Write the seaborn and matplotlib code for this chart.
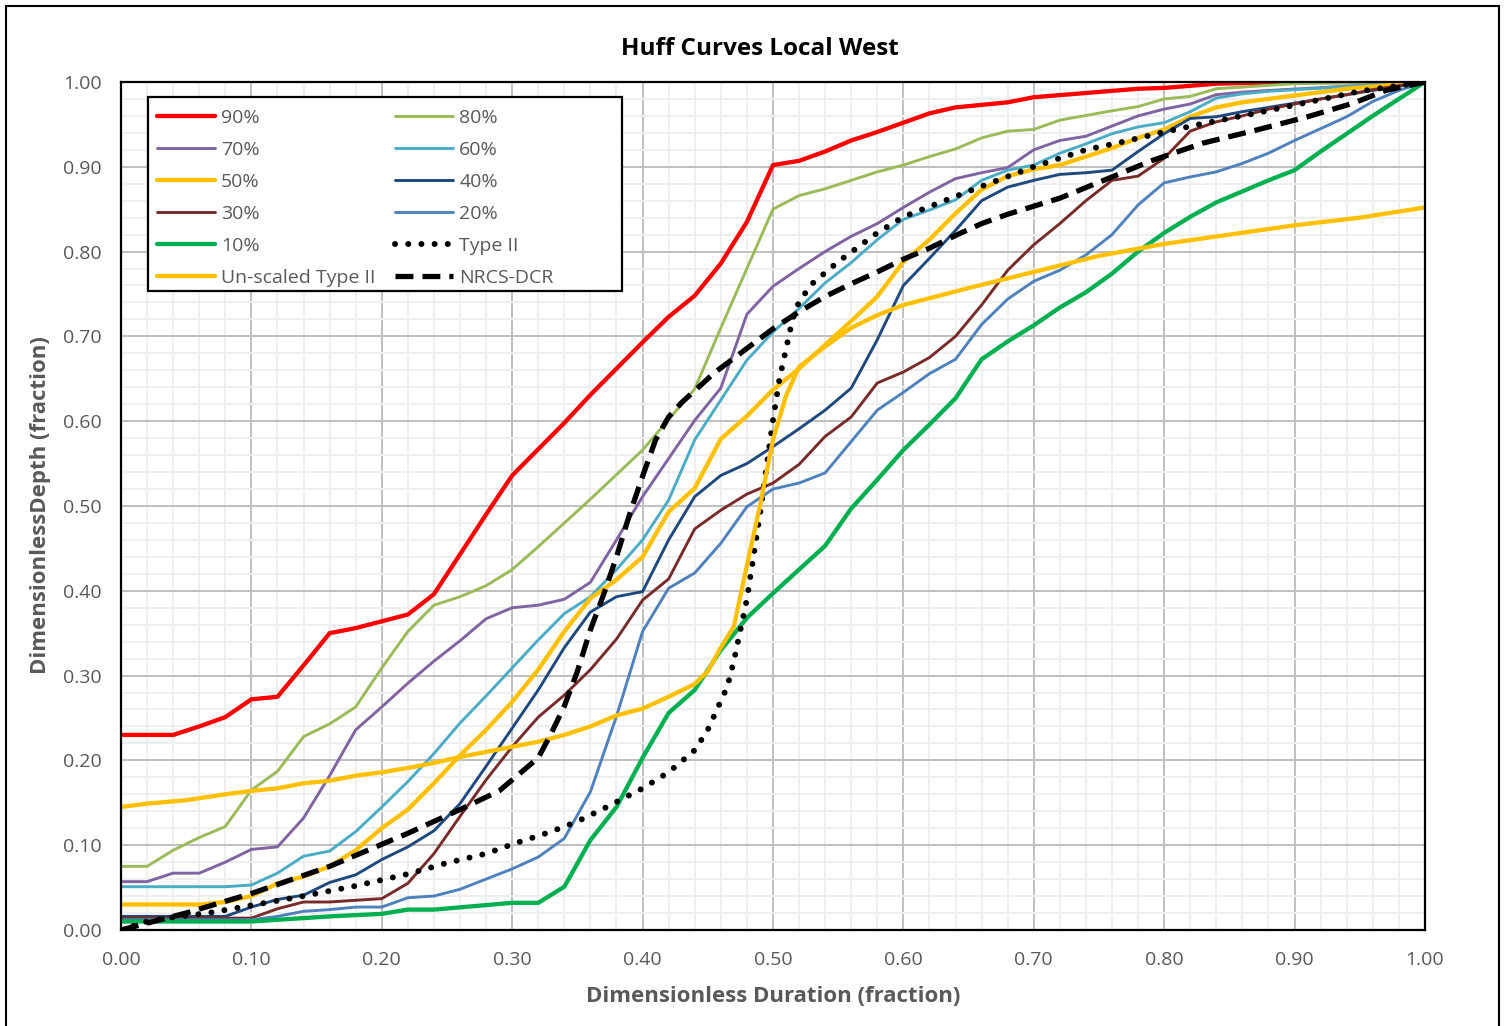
import numpy as np
import matplotlib
matplotlib.use("Agg")
import matplotlib.pyplot as plt
from matplotlib.patches import Rectangle
from matplotlib.ticker import MultipleLocator, FormatStrFormatter
import seaborn as sns


# DATA

P90_X = [0, 0.04, 0.06, 0.08, 0.10, 0.12, 0.14, 0.16, 0.18, 0.20, 0.22, 0.24, 0.26, 0.28, 0.30,
         0.32, 0.34, 0.36, 0.38, 0.40, 0.42, 0.44, 0.46, 0.48, 0.50, 0.52, 0.54, 0.56, 0.58, 0.60,
         0.62, 0.64, 0.66, 0.68, 0.70, 0.74, 0.78, 0.80, 0.84, 0.90, 1.00]
P90_Y = [0.230, 0.230, 0.240, 0.251, 0.272, 0.275, 0.312, 0.350, 0.356, 0.364, 0.372, 0.396, 0.443,
         0.490, 0.536, 0.567, 0.598, 0.631, 0.662, 0.693, 0.723, 0.748, 0.786, 0.835, 0.902, 0.907,
         0.918, 0.931, 0.941, 0.952, 0.963, 0.970, 0.973, 0.976, 0.982, 0.987, 0.992, 0.993, 0.998,
         1.0, 1.0]

P80_X = [0, 0.02, 0.04, 0.06, 0.08, 0.10, 0.12, 0.14, 0.16, 0.18, 0.20, 0.22, 0.24, 0.26, 0.28,
         0.30, 0.32, 0.36, 0.40, 0.44, 0.46, 0.48, 0.50, 0.52, 0.54, 0.56, 0.58, 0.60, 0.62, 0.64,
         0.66, 0.68, 0.70, 0.72, 0.76, 0.78, 0.80, 0.82, 0.84, 0.90, 1.0]
P80_Y = [0.075, 0.075, 0.094, 0.109, 0.122, 0.165, 0.187, 0.228, 0.243, 0.263, 0.309, 0.352, 0.383,
         0.393, 0.406, 0.425, 0.452, 0.508, 0.566, 0.638, 0.710, 0.780, 0.850, 0.866, 0.874, 0.884,
         0.894, 0.902, 0.912, 0.921, 0.934, 0.942, 0.944, 0.955, 0.966, 0.971, 0.980, 0.983, 0.992,
         0.998, 1.0]

P70_X = [0, 0.02, 0.04, 0.06, 0.08, 0.10, 0.12, 0.14, 0.16, 0.18, 0.20, 0.22, 0.24, 0.26, 0.28,
         0.30, 0.32, 0.34, 0.36, 0.38, 0.40, 0.42, 0.44, 0.46, 0.48, 0.50, 0.52, 0.54, 0.56, 0.58,
         0.60, 0.62, 0.64, 0.66, 0.68, 0.70, 0.72, 0.74, 0.76, 0.78, 0.80, 0.82, 0.84, 0.86, 0.88,
         1.0]
P70_Y = [0.057, 0.057, 0.067, 0.067, 0.080, 0.095, 0.098, 0.132, 0.182, 0.236, 0.263, 0.291, 0.317,
         0.341, 0.367, 0.380, 0.383, 0.390, 0.410, 0.460, 0.511, 0.556, 0.601, 0.639, 0.726, 0.759,
         0.780, 0.800, 0.818, 0.833, 0.852, 0.870, 0.886, 0.893, 0.899, 0.920, 0.931, 0.936, 0.948,
         0.960, 0.968, 0.974, 0.985, 0.988, 0.990, 1.0]

P60_X = [0, 0.08, 0.10, 0.12, 0.14, 0.16, 0.18, 0.20, 0.22, 0.24, 0.26, 0.28, 0.30, 0.32, 0.34,
         0.36, 0.38, 0.40, 0.42, 0.44, 0.46, 0.48, 0.50, 0.52, 0.54, 0.56, 0.58, 0.60, 0.62, 0.64,
         0.66, 0.68, 0.70, 0.72, 0.74, 0.76, 0.78, 0.80, 0.82, 0.84, 0.86, 0.88, 1.0]
P60_Y = [0.051, 0.051, 0.053, 0.067, 0.087, 0.093, 0.116, 0.145, 0.175, 0.208, 0.244, 0.276, 0.309,
         0.342, 0.373, 0.393, 0.425, 0.460, 0.507, 0.578, 0.625, 0.672, 0.705, 0.733, 0.763, 0.787,
         0.814, 0.838, 0.849, 0.861, 0.884, 0.896, 0.902, 0.916, 0.927, 0.939, 0.947, 0.952, 0.965,
         0.981, 0.986, 0.989, 1.0]

P50_X = [0, 0.06, 0.08, 0.10, 0.12, 0.14, 0.16, 0.18, 0.20, 0.22, 0.24, 0.26, 0.28, 0.30, 0.32,
         0.34, 0.36, 0.38, 0.40, 0.42, 0.44, 0.46, 0.48, 0.50, 0.52, 0.54, 0.56, 0.58, 0.60, 0.62,
         0.64, 0.66, 0.68, 0.70, 0.72, 0.74, 0.76, 0.78, 0.80, 0.82, 0.84, 0.86, 0.88, 0.90, 0.92,
         0.94, 1.0]
P50_Y = [0.030, 0.030, 0.033, 0.040, 0.055, 0.063, 0.075, 0.094, 0.120, 0.142, 0.173, 0.206, 0.236,
         0.269, 0.307, 0.352, 0.391, 0.413, 0.440, 0.493, 0.521, 0.579, 0.606, 0.637, 0.662, 0.690,
         0.718, 0.747, 0.788, 0.814, 0.845, 0.873, 0.889, 0.897, 0.902, 0.912, 0.922, 0.934, 0.944,
         0.959, 0.970, 0.976, 0.980, 0.984, 0.988, 0.992, 1.0]

P40_X = [0, 0.08, 0.10, 0.12, 0.14, 0.16, 0.18, 0.20, 0.22, 0.24, 0.26, 0.28, 0.30, 0.32, 0.34,
         0.36, 0.38, 0.40, 0.42, 0.44, 0.46, 0.48, 0.50, 0.52, 0.54, 0.56, 0.58, 0.60, 0.62, 0.64,
         0.66, 0.68, 0.70, 0.72, 0.74, 0.76, 0.78, 0.80, 0.82, 0.84, 0.86, 0.88, 0.90, 1.0]
P40_Y = [0.016, 0.016, 0.027, 0.036, 0.041, 0.056, 0.065, 0.083, 0.098, 0.117, 0.149, 0.193, 0.238,
         0.283, 0.333, 0.375, 0.393, 0.399, 0.460, 0.511, 0.536, 0.550, 0.570, 0.591, 0.613, 0.639,
         0.696, 0.760, 0.792, 0.825, 0.860, 0.876, 0.884, 0.891, 0.893, 0.896, 0.918, 0.939, 0.957,
         0.959, 0.965, 0.970, 0.975, 1.0]

P30_X = [0, 0.10, 0.12, 0.14, 0.16, 0.18, 0.20, 0.22, 0.24, 0.26, 0.28, 0.30, 0.32, 0.34, 0.36,
         0.38, 0.40, 0.42, 0.44, 0.46, 0.48, 0.50, 0.52, 0.54, 0.56, 0.58, 0.60, 0.62, 0.64, 0.66,
         0.68, 0.70, 0.72, 0.74, 0.76, 0.78, 0.80, 0.82, 0.84, 0.86, 0.88, 0.90, 0.92, 0.94, 0.96,
         1.0]
P30_Y = [0.014, 0.014, 0.025, 0.033, 0.033, 0.035, 0.037, 0.055, 0.090, 0.134, 0.177, 0.216, 0.251,
         0.277, 0.307, 0.343, 0.389, 0.414, 0.473, 0.495, 0.514, 0.527, 0.549, 0.582, 0.605, 0.645,
         0.658, 0.675, 0.700, 0.737, 0.778, 0.808, 0.833, 0.860, 0.884, 0.889, 0.910, 0.942, 0.953,
         0.960, 0.968, 0.974, 0.980, 0.985, 0.991, 1.0]

P20_X = [0, 0.10, 0.12, 0.14, 0.16, 0.18, 0.20, 0.22, 0.24, 0.26, 0.28, 0.30, 0.32, 0.34, 0.36,
         0.38, 0.40, 0.42, 0.44, 0.46, 0.48, 0.50, 0.52, 0.54, 0.56, 0.58, 0.60, 0.62, 0.64, 0.66,
         0.68, 0.70, 0.72, 0.74, 0.76, 0.78, 0.80, 0.82, 0.84, 0.86, 0.88, 0.90, 0.92, 0.94, 0.96,
         0.98, 1.0]
P20_Y = [0.012, 0.012, 0.016, 0.022, 0.024, 0.027, 0.027, 0.038, 0.040, 0.048, 0.060, 0.072, 0.086,
         0.108, 0.163, 0.252, 0.352, 0.403, 0.421, 0.456, 0.499, 0.520, 0.527, 0.539, 0.576, 0.613,
         0.634, 0.656, 0.673, 0.714, 0.744, 0.765, 0.778, 0.796, 0.820, 0.855, 0.881, 0.888, 0.894,
         0.904, 0.916, 0.931, 0.945, 0.959, 0.977, 0.990, 1.0]

P10_X = [0, 0.10, 0.16, 0.20, 0.22, 0.24, 0.30, 0.32, 0.34, 0.36, 0.38, 0.40, 0.42, 0.44, 0.46,
         0.48, 0.50, 0.52, 0.54, 0.56, 0.58, 0.60, 0.62, 0.64, 0.66, 0.68, 0.70, 0.72, 0.74, 0.76,
         0.78, 0.80, 0.82, 0.84, 0.86, 0.88, 0.90, 0.92, 0.94, 0.96, 0.98, 1.0]
P10_Y = [0.010, 0.010, 0.016, 0.019, 0.024, 0.024, 0.032, 0.032, 0.051, 0.106, 0.145, 0.203, 0.256,
         0.283, 0.330, 0.368, 0.397, 0.425, 0.453, 0.497, 0.531, 0.566, 0.596, 0.627, 0.673, 0.694,
         0.713, 0.734, 0.752, 0.774, 0.800, 0.822, 0.841, 0.858, 0.871, 0.884, 0.896, 0.918, 0.939,
         0.960, 0.980, 1.0]

TYPE2_X = [0, 0.02, 0.035, 0.067, 0.10, 0.14, 0.18, 0.22, 0.25, 0.28, 0.30, 0.33, 0.35, 0.37,
           0.40, 0.42, 0.44, 0.45, 0.46, 0.465, 0.47, 0.48, 0.49, 0.50, 0.505, 0.51, 0.515, 0.52,
           0.53, 0.55, 0.58, 0.60, 0.63, 0.66, 0.70, 0.74, 0.77, 0.80, 0.83, 0.87, 0.91, 0.95, 1.0]
TYPE2_Y = [0.0, 0.010, 0.014, 0.020, 0.029, 0.040, 0.052, 0.066, 0.079, 0.090, 0.101, 0.116, 0.128,
           0.143, 0.167, 0.186, 0.212, 0.236, 0.270, 0.287, 0.317, 0.390, 0.490, 0.601, 0.650,
           0.685, 0.720, 0.741, 0.762, 0.788, 0.822, 0.841, 0.859, 0.877, 0.900, 0.920, 0.930,
           0.941, 0.951, 0.963, 0.976, 0.989, 1.0]

UNSC_X = [0, 0.02, 0.05, 0.08, 0.10, 0.12, 0.14, 0.16, 0.18, 0.20, 0.22, 0.24, 0.26, 0.28, 0.30,
          0.32, 0.34, 0.36, 0.38, 0.40, 0.42, 0.44, 0.45, 0.46, 0.47, 0.48, 0.49, 0.50, 0.51, 0.52,
          0.54, 0.56, 0.58, 0.60, 0.65, 0.70, 0.75, 0.80, 0.85, 0.90, 0.95, 1.0]
UNSC_Y = [0.145, 0.149, 0.153, 0.160, 0.164, 0.167, 0.173, 0.176, 0.182, 0.186, 0.191, 0.197, 0.204,
          0.210, 0.216, 0.222, 0.230, 0.240, 0.253, 0.261, 0.275, 0.290, 0.305, 0.333, 0.358, 0.430,
          0.500, 0.578, 0.630, 0.664, 0.688, 0.710, 0.725, 0.737, 0.757, 0.776, 0.795, 0.809, 0.820,
          0.831, 0.840, 0.852]

DCR_X = [0, 0.05, 0.10, 0.16, 0.22, 0.26, 0.29, 0.32, 0.33, 0.34, 0.35, 0.36, 0.37, 0.38, 0.39,
         0.40, 0.41, 0.42, 0.43, 0.44, 0.455, 0.475, 0.50, 0.52, 0.54, 0.56, 0.58, 0.60, 0.62, 0.64,
         0.66, 0.68, 0.72, 0.76, 0.79, 0.83, 0.87, 0.91, 0.945, 0.97, 1.0]
DCR_Y = [0.0, 0.020, 0.043, 0.075, 0.114, 0.142, 0.164, 0.203, 0.232, 0.264, 0.305, 0.354, 0.395,
         0.440, 0.490, 0.535, 0.578, 0.605, 0.622, 0.636, 0.657, 0.680, 0.709, 0.729, 0.747, 0.762,
         0.776, 0.791, 0.804, 0.819, 0.833, 0.844, 0.863, 0.888, 0.907, 0.928, 0.943, 0.959, 0.975,
         0.990, 1.0]

X_TICKS = np.arange(0, 1.001, 0.1)
Y_TICKS = np.arange(0, 1.001, 0.1)

TITLE = "Huff Curves Local West"
X_LABEL = "Dimensionless Duration (fraction)"
Y_LABEL = "DimensionlessDepth (fraction)"


# STYLE

sns.set_style("white")
plt.rcParams["font.family"] = ["Open Sans", "DejaVu Sans"]

GRAY_TXT = "#595959"
DOT = (0, (0.01, 2.2))
DASH = (0, (3.4, 1.7))

# label, x, y, color, width, linestyle  (Excel series order)
series = [
    ("90%", P90_X, P90_Y, "#FF0000", 3.1, "-"),
    ("80%", P80_X, P80_Y, "#9BBB59", 2.1, "-"),
    ("70%", P70_X, P70_Y, "#8064A2", 2.1, "-"),
    ("60%", P60_X, P60_Y, "#4BACC6", 2.1, "-"),
    ("50%", P50_X, P50_Y, "#FFC000", 3.1, "-"),
    ("40%", P40_X, P40_Y, "#1F497D", 2.1, "-"),
    ("30%", P30_X, P30_Y, "#772C2A", 2.1, "-"),
    ("20%", P20_X, P20_Y, "#4F81BD", 2.1, "-"),
    ("10%", P10_X, P10_Y, "#00B050", 3.1, "-"),
    ("Type II", TYPE2_X, TYPE2_Y, "#000000", 4.3, DOT),
    ("Un-scaled Type II", UNSC_X, UNSC_Y, "#FFC000", 3.1, "-"),
    ("NRCS-DCR", DCR_X, DCR_Y, "#000000", 3.8, DASH),
]


# FIGURE

fig = plt.figure(figsize=(15.05, 10.26), dpi=100)
ax = fig.add_axes([0.0804, 0.0936, 0.8664, 0.8265])

handles = {}
for label, xs, ys, color, lw, ls in series:
    sns.lineplot(x=xs, y=ys, ax=ax, color=color, linewidth=lw, linestyle=ls,
                 sort=False, estimator=None, legend=False)
    line = ax.lines[-1]
    line.set_solid_joinstyle("round")
    if ls == DOT:
        line.set_dash_capstyle("round")
    handles[label] = line

ax.set_xlim(0, 1)
ax.set_ylim(0, 1)
ax.set_xticks(X_TICKS)
ax.set_yticks(Y_TICKS)
ax.xaxis.set_minor_locator(MultipleLocator(0.02))
ax.yaxis.set_minor_locator(MultipleLocator(0.02))
ax.xaxis.set_major_formatter(FormatStrFormatter("%.2f"))
ax.yaxis.set_major_formatter(FormatStrFormatter("%.2f"))
ax.grid(which="minor", color="#EFEFEF", linewidth=1.4, zorder=0)
ax.grid(which="major", color="#BFBFBF", linewidth=1.4, zorder=0)
ax.set_axisbelow(True)
ax.tick_params(which="both", length=0, labelsize=14, labelcolor=GRAY_TXT, pad=14)
ax.tick_params(axis="x", pad=15)
for sp in ax.spines.values():
    sp.set_color("black")
    sp.set_linewidth(1.6)
ax.set_xlabel("")
ax.set_ylabel("")

fig.text(0.505, 0.952, TITLE, ha="center", va="center", fontsize=17.5, fontweight="bold",
         color="black")
fig.text(0.5136, 0.0283, X_LABEL, ha="center", va="center", fontsize=16, fontweight="bold",
         color=GRAY_TXT)
fig.text(0.0266, 0.508, Y_LABEL, ha="center", va="center", rotation=90, fontsize=16,
         fontweight="bold", color=GRAY_TXT)

# legend box drawn by hand (Excel box is wider than its contents)
x0, x1 = (148 - 121) / 1304, (622 - 121) / 1304
y0, y1 = (930 - 291) / 848, (930 - 97) / 848
ax.add_patch(Rectangle((x0, y0), x1 - x0, y1 - y0, transform=ax.transAxes,
                       facecolor="white", edgecolor="black", linewidth=1.6, zorder=6))

order = ["90%", "70%", "50%", "30%", "10%", "Un-scaled Type II",
         "80%", "60%", "40%", "20%", "Type II", "NRCS-DCR"]
leg = ax.legend([handles[k] for k in order], order, ncol=2, loc="upper left",
                bbox_to_anchor=((157 - 121) / 1304, (930 - 109) / 848), borderpad=0,
                borderaxespad=0, frameon=False, fontsize=14, handlelength=3.0,
                handletextpad=0.3, labelspacing=0.72, columnspacing=1.0)
leg.set_zorder(7)
for t in leg.get_texts():
    t.set_color(GRAY_TXT)

# outer chart border
fig.patches.append(Rectangle((6 / 1505, -0.01), (1499 - 6) / 1505, 1.0042, transform=fig.transFigure,
                             fill=False, edgecolor="black", linewidth=1.5))

fig.savefig("out.png", dpi=100)
